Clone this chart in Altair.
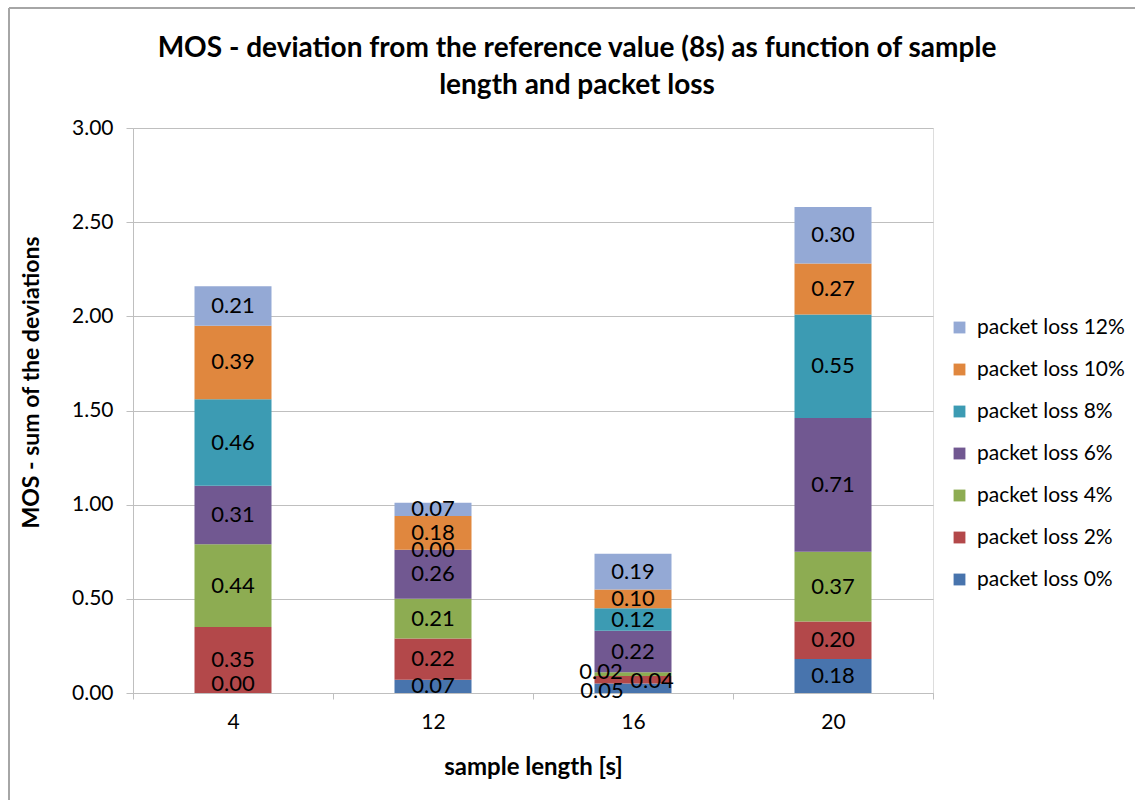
import altair as alt
import pandas as pd

lengths = ["4", "12", "16", "20"]
series = ["packet loss 0%", "packet loss 2%", "packet loss 4%", "packet loss 6%",
          "packet loss 8%", "packet loss 10%", "packet loss 12%"]
values = {
    "packet loss 0%":  [0.00, 0.07, 0.05, 0.18],
    "packet loss 2%":  [0.35, 0.22, 0.04, 0.20],
    "packet loss 4%":  [0.44, 0.21, 0.02, 0.37],
    "packet loss 6%":  [0.31, 0.26, 0.22, 0.71],
    "packet loss 8%":  [0.46, 0.00, 0.12, 0.55],
    "packet loss 10%": [0.39, 0.18, 0.10, 0.27],
    "packet loss 12%": [0.21, 0.07, 0.19, 0.30],
}
colors = ["#4874ad", "#b3484a", "#8dac52", "#715891", "#3c9bb3", "#e0873e", "#94a9d5"]

rows = []
for si, s in enumerate(series):
    for li, l in enumerate(lengths):
        rows.append({"length": l, "series": s, "order": si, "value": values[s][li]})
df = pd.DataFrame(rows)

FONT = "Lato"
GRID = "#bfbfbf"

base = alt.Chart(df).transform_stack(
    stack="value", groupby=["length"], sort=[alt.SortField("order", "ascending")],
    as_=["v0", "v1"]
).transform_calculate(mid="(datum.v0 + datum.v1) / 2")

xenc = alt.X("length:N", sort=lengths, title="sample length [s]",
             scale=alt.Scale(paddingInner=0, paddingOuter=0),
             axis=alt.Axis(labelAngle=0, tickBand="extent", domainColor=GRID,
                           tickColor=GRID, tickSize=6, labelPadding=12,
                           labelFontSize=21, labelColor="#000000", labelFont=FONT,
                           titleFontSize=24, titleFont=FONT, titleFontWeight="bold",
                           titleColor="#000000", titlePadding=23))

rev_series = list(reversed(series))
rev_colors = list(reversed(colors))

bars = base.mark_bar(width=alt.RelativeBandSize(0.385)).encode(
    x=xenc,
    y=alt.Y("v0:Q", title="MOS - sum of the deviations",
            scale=alt.Scale(domain=[0, 3]),
            axis=alt.Axis(values=[0, 0.5, 1, 1.5, 2, 2.5, 3], format=".2f",
                          gridColor=GRID, domainColor=GRID,
                          tickColor=GRID, tickSize=7, labelPadding=13,
                          labelFontSize=21, labelColor="#000000", labelFont=FONT,
                          titleFontSize=23, titleFont=FONT, titleFontWeight="bold",
                          titleColor="#000000", titleX=-90, titleY=254)),
    y2="v1:Q",
    color=alt.Color("series:N", scale=alt.Scale(domain=rev_series, range=rev_colors),
                    legend=alt.Legend(title=None, orient="none", legendX=816, legendY=189,
                                      symbolType="square", symbolSize=140,
                                      symbolStrokeWidth=0, labelFontSize=21,
                                      labelFont=FONT, labelColor="#000000",
                                      rowPadding=20, labelOffset=7)),
    order=alt.Order("order:Q"),
)

txt = dict(fontSize=22, font=FONT, color="#000000")
enc = dict(x=alt.X("length:N", sort=lengths), y=alt.Y("mid:Q"),
           text=alt.Text("value:Q", format=".2f"))

is_16_low = "datum.length == '16' && datum.order <= 2"
is_4_zero = "datum.length == '4' && datum.order == 0"

labels_main = base.mark_text(**txt).encode(**enc).transform_filter(
    f"!({is_16_low}) && !({is_4_zero})")
lab_4_zero = base.mark_text(dy=-9, **txt).encode(**enc).transform_filter(is_4_zero)
lab_16_0 = base.mark_text(dx=-31, dy=3, **txt).encode(**enc).transform_filter(
    "datum.length == '16' && datum.order == 0")
lab_16_1 = base.mark_text(dx=19, dy=1, **txt).encode(**enc).transform_filter(
    "datum.length == '16' && datum.order == 1")
lab_16_2 = base.mark_text(dx=-32, dy=-2, **txt).encode(**enc).transform_filter(
    "datum.length == '16' && datum.order == 2")

frame_top = alt.Chart(df).mark_rule(color="#a6a6a6", strokeWidth=2).encode(
    x=alt.value(-124), x2=alt.value(1010), y=alt.value(-120))
frame_left = alt.Chart(df).mark_rule(color="#a6a6a6", strokeWidth=2).encode(
    x=alt.value(-124), y=alt.value(-120), y2=alt.value(680))

chart = alt.layer(bars, labels_main, lab_4_zero, lab_16_0, lab_16_1, lab_16_2,
                  frame_top, frame_left).properties(
    width=800, height=565,
    title=alt.TitleParams(
        ["MOS - deviation from the reference value (8s) as function of sample",
         "length and packet loss"],
        fontSize=28, font=FONT, fontWeight="bold", color="#000000",
        lineHeight=37, anchor="middle", dx=44, offset=-93),
    autosize=alt.AutoSizeParams(type="none"),
    padding={"left": 133, "top": 128, "right": 202, "bottom": 107},
).configure_view(stroke=None).configure(background="#ffffff")

chart.save("out.html", embed_options={"renderer": "svg", "actions": False})
